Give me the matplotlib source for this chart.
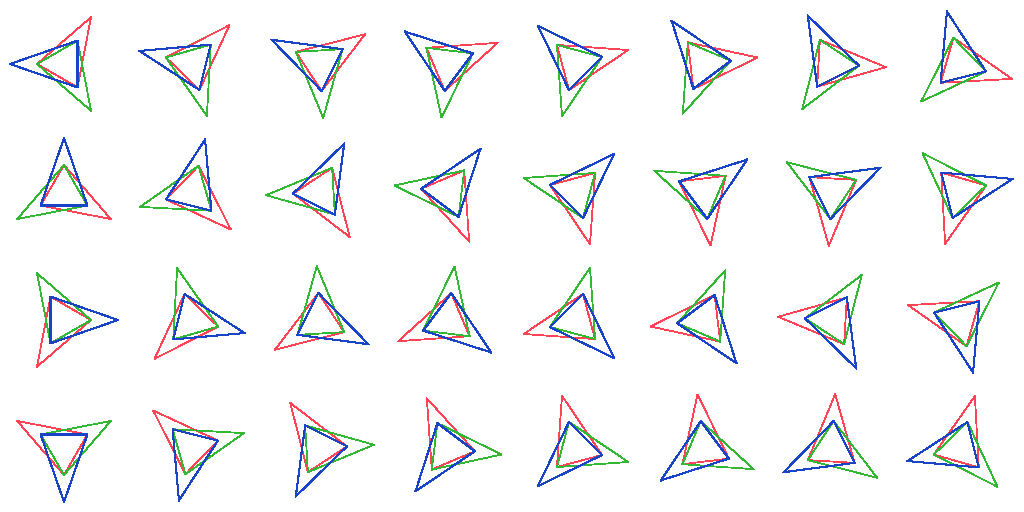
from matplotlib import pyplot as plt
import numpy as np

# direction of the blue spike in each panel (degrees), read row by row
angles = [180, 166, 153.4, 143.1, 135, 126.9, 116.6, 104,
          90, 76, 63.4, 53.1, 45, 36.9, 26.6, 14,
          0, -14, -26.6, -36.9, -45, -53.1, -63.4, -76,
          -90, -104, -116.6, -126.9, -135, -143.1, -153.4, -166]

# the three spokes, relative to the panel angle
spokes = [0, 120, 240]

# radius along each spoke for every triangle
red_r = [1, 1, 2]
green_r = [1, 2, 1]
blue_r = [2, 1, 1]

colors = {'red': '#ff4455', 'green': '#33b833', 'blue': '#1a44c8'}
widths = {'red': 0.55, 'green': 0.55, 'blue': 0.75}
series = [('red', red_r), ('green', green_r), ('blue', blue_r)]

nrows, ncols = 4, 8
lim = 2.37

fig, axes = plt.subplots(nrows, ncols, figsize=(10.24, 5.12), dpi=100)
fig.subplots_adjust(left=0, right=1, bottom=0, top=1, wspace=0, hspace=0)

for k, ax in enumerate(axes.flat):
    theta = np.radians(angles[k] + np.array(spokes))
    for name, r in series:
        r = np.array(r, dtype=float)
        x = r * np.cos(theta)
        y = r * np.sin(theta)
        ax.plot(np.append(x, x[0]), np.append(y, y[0]),
                color=colors[name], lw=widths[name], antialiased=False)
    ax.set_xlim(-lim, lim)
    ax.set_ylim(-lim, lim)
    ax.set_aspect('equal')
    ax.axis('off')

fig.savefig('out.png', dpi=100)
